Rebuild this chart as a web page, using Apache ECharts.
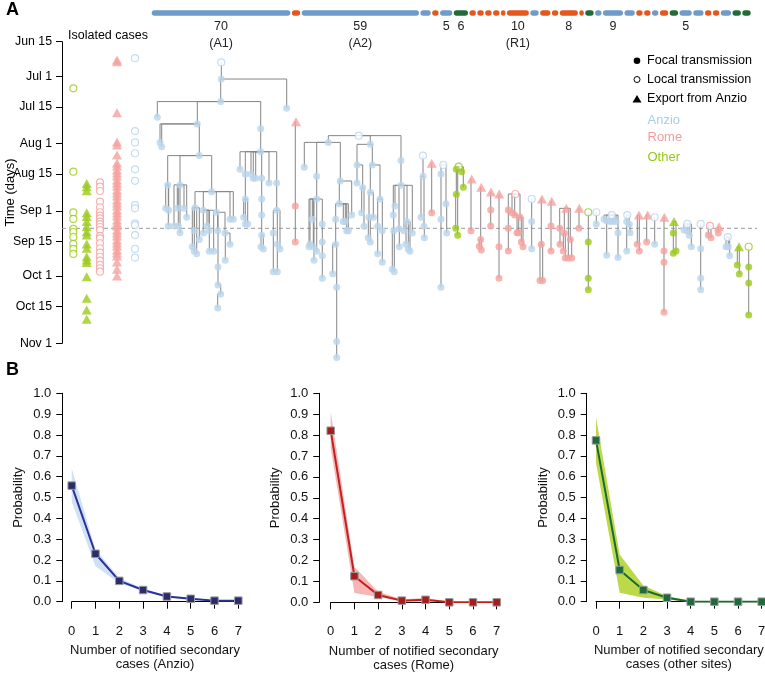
<!DOCTYPE html>
<html><head><meta charset="utf-8">
<script src="https://cdn.jsdelivr.net/npm/echarts@6/dist/echarts.min.js"></script>
<style>html,body{margin:0;padding:0;background:#fff}#c{width:765px;height:675px}</style>
</head><body><div id="c"></div>
<script>
const FONT = '"Liberation Sans", Arial, Helvetica, sans-serif';

// ---------- Panel A: time axis (days since Jun 15) ----------
const yTickDays = [0, 16, 30, 47, 61, 78, 92, 108, 122, 139];
const yTickLabels = ['Jun 15', 'Jul 1', 'Jul 15', 'Aug 1', 'Aug 15', 'Sep 1', 'Sep 15', 'Oct 1', 'Oct 15', 'Nov 1'];
const cutoffDay = 86;

// ---------- cluster bar ----------
const clusterSizes = [70,3,59,4,2,5,6,2,2,2,2,1,10,3,4,2,8,1,3,2,9,4,2,2,2,3,3,5,4,2,2,4,3,3];
const clusterSites = ['A','R','A','A','R','A','O','R','R','R','R','R','R','A','R','R','R','R','O','A','A','A','R','R','A','R','O','A','A','R','R','A','O','O'];
const clusterLabels = {0:'70\n(A1)', 2:'59\n(A2)', 5:'5', 6:'6', 12:'10\n(R1)', 16:'8', 20:'9', 27:'5'};

// ---------- isolated cases (days) ----------
const isoOtherLocal = [21.5,59.9,78.7,81.7,86.3,87.7,90.0,93.2,95.5,97.8];
const isoOtherExport = [65.3,66.8,68.7,78.8,80.6,82.9,85.3,87.6,89.1,93.2,95.2,99.1,100.6,101.8,108.3,118.2,123.6,127.9];
const isoRomeLocal = [64.8,66.8,68.8,73.7,76.3,78.6,80.2,81.4,82.9,84.1,85.4,86.8,89.5,90.6,92.9,95.2,97.2,99.1,100.9,102.9,104.4,106.0];
const isoRomeExport = [8.4,9.2,32.7,46.2,47.6,52.2,55.9,57.3,59.1,60.5,61.9,63.7,65.1,66.5,68.3,69.7,71.1,72.9,74.3,75.7,77.6,79.0,80.3,82.2,83.5,84.9,86.8,88.2,89.5,91.4,92.8,94.2,96.0,97.4,98.8,101.5,104.9,108.0];
const isoAnzioLocal = [7.6,41.2,46.4,51.4,58.8,64.1,75.3,76.8,83.7,84.5,89.1,95.5,99.5];

// ---------- transmission trees: [column, day, site, kind, parent] ----------
const treeA1 = [
[221.3,9.5,'A','l',-1],[221.3,17.2,'A','f',0],[286.7,30.7,'A','f',1],[220.7,27.6,'A','f',1],
[157.3,34.8,'A','f',3],[197.3,37.9,'A','f',3],[260.7,40.1,'A','f',3],
[160,46.4,'A','f',5],[161.7,48.4,'A','f',5],[199.3,52.5,'A','f',5],
[167.7,66.0,'A','f',9],[180,66.0,'A','f',9],[211.7,69.1,'A','f',9],
[165.7,76.8,'A','f',10],[168.7,77.7,'A','f',10],[168.3,84.9,'A','f',10],
[177.3,76.8,'A','f',11],[184,76.8,'A','f',11],[186.7,80.9,'A','f',11],[174,84.9,'A','f',11],[178.3,84.9,'A','f',11],[180,88.0,'A','f',11],
[195,76.5,'A','f',12],[203.3,77.7,'A','f',12],[216.3,78.6,'A','f',12],[230,81.8,'A','f',12],[233.3,81.8,'A','f',12],
[194.3,87.1,'A','f',22],[199.3,91.2,'A','f',22],[192.3,94.5,'A','f',22],[194.3,96.6,'A','f',22],[196.7,97.7,'A','f',22],
[207,84.9,'A','f',23],[209,87.1,'A','f',23],[203.3,88.2,'A','f',23],[209.3,96.6,'A','f',23],[213.7,96.6,'A','f',23],
[225,88.2,'A','f',24],[217.7,87.1,'A','f',24],[218,103.8,'A','f',24],[218,112.1,'A','f',39],[220.7,116.3,'A','f',40],[217.7,122.7,'A','f',41],
[230,93.4,'A','f',37],[225.3,100.7,'A','f',37],
[260.7,50.7,'A','f',6],
[240,58.8,'A','f',45],[245.3,61.0,'A','f',45],[251,61.0,'A','f',45],[253.3,62.9,'A','f',45],[255.7,62.9,'A','f',45],[261.7,62.9,'A','f',45],[269,65.1,'A','f',45],[276.7,65.1,'A','f',45],
[245.3,72.5,'A','f',47],[243.7,80.9,'A','f',54],[245.3,84.0,'A','f',54],[247.7,84.0,'A','f',54],
[261.7,72.5,'A','f',51],[261.7,79.9,'A','f',58],[261.7,89.2,'A','f',59],[261,94.5,'A','f',60],[263.3,95.5,'A','f',60],
[276.7,77.7,'A','f',53],[273.3,88.2,'A','f',63],[277.3,93.4,'A','f',63],[280,95.5,'A','f',63],[273.3,106.0,'A','f',64],[277.3,106.0,'A','f',65]
];
const treeR0 = [[296,36.9,'R','e',-1],[295.3,75.7,'R','f',0],[295.3,92.3,'R','f',1]];
const treeA2 = [
[358.7,43.3,'A','l',-1],[328.3,46.4,'A','f',0],[370.3,47.3,'A','f',0],[401,54.8,'A','f',0],
[304.3,57.9,'A','f',1],[316.7,62.0,'A','f',1],[340.3,64.2,'A','f',1],
[316.7,72.5,'A','f',5],[312.3,81.8,'A','f',7],[322.3,84.0,'A','f',7],[310,93.4,'A','f',7],[309,94.5,'A','f',7],[313.3,94.5,'A','f',7],[316.7,96.6,'A','f',7],[314,100.7,'A','f',7],
[322.3,92.3,'A','f',9],[322.3,98.6,'A','f',15],[322.3,109.0,'A','f',16],
[339.3,74.7,'A','f',6],[351.7,79.9,'A','f',6],
[335.7,81.8,'A','f',18],[343.3,82.9,'A','f',18],[345.3,82.9,'A','f',18],[346.7,87.1,'A','f',18],[348.3,87.1,'A','f',18],
[335.7,93.4,'A','f',20],[332.7,107.0,'A','f',25],[336.7,113.2,'A','f',25],[336.7,138.2,'A','f',27],[336.7,145.6,'A','f',28],
[357,56.8,'A','f',2],[372.3,56.8,'A','f',2],[357,65.1,'A','f',30],[362.7,67.3,'A','f',30],[361.7,78.8,'A','f',33],[364,85.1,'A','f',33],
[370.3,69.4,'A','f',31],[380,72.5,'A','f',31],[369,80.9,'A','f',36],[373.3,80.9,'A','f',36],[368.3,90.3,'A','f',38],[370.3,92.3,'A','f',39],
[377.7,85.1,'A','f',37],[382.3,87.1,'A','f',37],[377.7,97.7,'A','f',42],[382.3,101.7,'A','f',43],
[401,66.2,'A','f',3],[395,75.7,'A','f',46],[393.3,79.9,'A','f',46],[393.7,87.1,'A','f',48],[399,86.2,'A','f',46],[404,87.1,'A','f',46],[407,82.9,'A','f',46],
[406,93.4,'A','f',52],[408.3,95.5,'A','f',52],[410,96.6,'A','f',52],[412.3,88.2,'A','f',46],[392.3,104.9,'A','f',49],[394.3,106.0,'A','f',49],[399.3,94.5,'A','f',50]
];
const treeSmall = [
[423,52.5,'A','l',-1],[423,62.0,'A','f',0],[421,80.9,'A','f',1],[424,85.1,'A','f',1],[424.3,90.3,'A','f',3],
[431.7,56.0,'R','e',-1],[431.7,78.8,'R','f',5],
[443.3,56.8,'A','l',-1],[441,61.0,'A','f',7],[446,74.7,'A','f',7],[441,81.8,'A','f',8],[446.7,88.2,'A','f',9],[441,113.2,'A','f',10],
[458.7,57.6,'O','l',-1],[456.3,58.8,'O','f',13],[461.7,59.9,'O','f',13],[463.3,67.1,'O','f',13],[456.3,70.3,'O','f',14],[455.7,86.0,'O','f',17],[457.7,89.2,'O','f',14],
[471.7,63.3,'R','e',-1],[471,87.1,'R','f',20],
[481.3,67.1,'R','e',-1],[480.7,91.2,'R','f',22],[479.3,94.3,'R','f',23],[481.3,96.0,'R','f',23],
[491,69.3,'R','e',-1],[490.7,77.6,'R','f',26],[490.7,84.9,'R','f',27],
[499.3,70.2,'R','e',-1],[499,94.5,'R','f',29],[499,109.0,'R','f',30],
[515.3,70.2,'R','l',-1],[508.3,77.6,'R','f',32],[512,78.8,'R','f',32],[514.7,79.9,'R','f',32],[520,80.9,'R','f',32],[508.3,86.0,'R','f',33],[517,88.0,'R','f',35],[518.7,88.0,'R','f',36],[508.3,96.5,'R','f',37],[521.3,92.3,'R','f',36],[523,94.5,'R','f',36],
[531.7,72.5,'A','l',-1],[531.7,82.9,'A','f',43],[531.7,95.4,'A','f',44],
[542,72.5,'R','e',-1],[541.3,93.4,'R','f',46],[540,110.1,'R','f',47],[542.7,110.1,'R','f',47],
[551.7,73.5,'R','e',-1],[551,84.9,'R','f',50],[551,96.5,'R','f',51],
[566.3,76.8,'R','e',-1],[559.7,86.0,'R','f',53],[564.3,88.3,'R','f',53],[560,93.4,'R','f',54],[563.3,96.5,'R','f',55],[565.3,99.7,'R','f',55],[568.3,99.7,'R','f',53],[571.7,99.7,'R','f',61],[570.3,91.2,'R','f',53],
[579.3,76.8,'R','e',-1],[579,86.0,'R','f',62],
[588.3,78.6,'O','l',-1],[588.3,92.3,'O','f',64],[588.3,109.0,'O','f',65],[588.3,114.3,'O','f',66],
[596.3,78.6,'A','l',-1],[596.3,84.0,'A','f',68],
[611.7,79.9,'A','l',-1],[604,81.8,'A','f',70],[606.7,82.6,'A','f',70],[610,82.9,'A','f',70],[613.3,82.9,'A','f',70],[616,82.9,'A','f',70],[606.7,98.4,'A','f',72],[618,88.0,'A','f',70],[618,99.5,'A','f',77],
[627.3,79.9,'A','l',-1],[626.7,82.9,'A','f',79],[629.3,84.1,'A','f',79],[630,88.0,'A','f',81],[626.7,96.5,'A','f',80],
[639,79.9,'R','e',-1],[637.3,93.4,'R','f',84],[639.3,96.5,'R','f',84],
[647.7,79.9,'R','e',-1],[646.7,92.3,'R','f',87],
[654.7,80.9,'A','l',-1],[654.7,93.4,'A','f',89],
[664.3,80.9,'R','e',-1],[664,96.5,'R','f',91],[664,101.7,'R','f',92],[664,124.7,'R','f',93],
[674,82.9,'O','e',-1],[673.3,88.2,'O','f',95],[673.3,97.5,'O','f',96],[676,96.5,'O','f',95],
[687.3,84.0,'A','l',-1],[684,86.8,'A','f',99],[687.3,87.1,'A','f',99],[689.3,89.2,'A','f',99],[691.3,94.5,'A','f',99],
[700.7,84.0,'A','l',-1],[700.7,95.4,'A','f',104],[700.7,109.0,'A','f',105],[700.7,114.3,'A','f',106],
[710,84.9,'R','l',-1],[708.3,89.1,'R','f',108],[711,90.3,'R','f',108],
[719,85.3,'R','e',-1],[718.3,88.2,'R','f',111],
[727.7,90.1,'A','l',-1],[726,94.5,'A','f',113],[728.3,94.5,'A','f',113],[729.7,98.6,'A','f',113],
[739,94.5,'O','e',-1],[737.3,102.9,'O','f',117],[739.3,107.1,'O','f',117],
[748.7,94.5,'O','l',-1],[748.7,103.8,'O','f',120],[748.7,111.2,'O','f',121],[748.7,125.9,'O','f',122]
];

// ---------- Panel B: offspring distributions ----------
const countLabels = ['0','1','2','3','4','5','6','7'];
const anzioMean  = [0.557,0.230,0.100,0.056,0.025,0.014,0.005,0.005];
const anzioLow   = [0.480,0.170,0.088,0.050,0.021,0.011,0.004,0.003];
const anzioHigh  = [0.640,0.250,0.115,0.062,0.030,0.018,0.008,0.007];
const romeMean   = [0.821,0.125,0.035,0.008,0.012,0.000,0.000,0.000];
const romeLow    = [0.740,0.045,0.025,0.004,0.006,0.000,0.000,0.000];
const romeHigh   = [0.910,0.170,0.050,0.015,0.020,0.003,0.002,0.002];
const otherMean  = [0.774,0.152,0.056,0.019,0.000,0.000,0.000,0.000];
const otherLow   = [0.665,0.043,0.019,0.010,0.000,0.000,0.000,0.000];
const otherHigh  = [0.885,0.226,0.078,0.027,0.004,0.001,0.001,0.001];

// ---------- styles ----------
const SITE_POINT = {A:'#b9d5ec', R:'#f5a19e', O:'#9bcb1c'};
const SITE_BAR = {A:'#6e9bc7', R:'#e4581e', O:'#1f6c37'};

function pointItem(x, day, site, kind) {
  const c = SITE_POINT[site];
  if (kind === 'f') return {value:[x, day], symbol:'circle', symbolSize:7, itemStyle:{color:c}};
  if (kind === 'l') return {value:[x, day], symbol:'circle', symbolSize:7, itemStyle:{color:'#fff', borderColor:c, borderWidth:1.2}};
  return {value:[x, day], symbol:'triangle', symbolSize:[10,9], itemStyle:{color:c}};
}

const edges = [];
const points = [];
[treeA1, treeR0, treeA2, treeSmall].forEach(tree => {
  tree.forEach(n => {
    if (n[4] >= 0) {
      const p = tree[n[4]];
      if (Math.abs(p[0] - n[0]) > 0.01) edges.push([p[0], p[1], n[0], p[1]]);
      edges.push([n[0], p[1], n[0], n[1]]);
    }
  });
});
[treeA1, treeR0, treeA2, treeSmall].forEach(tree => tree.forEach(n => points.push(pointItem(n[0], n[1], n[2], n[3]))));

const isoCols = [[isoOtherLocal, 73.3, 'O', 'l'], [isoOtherExport, 86.7, 'O', 'e'], [isoRomeLocal, 100, 'R', 'l'], [isoRomeExport, 117, 'R', 'e'], [isoAnzioLocal, 135, 'A', 'l']];
isoCols.forEach(([arr, col, site, kind]) => arr.forEach(d => points.push(pointItem(col, d, site, kind))));

// cluster bar layout (in case units)
const CAP = 1.3, GAP = 0.75;
const barData = [];
let cum = 0;
clusterSizes.forEach((n, i) => {
  barData.push([cum, cum + n + CAP, i]);
  cum += n + CAP + GAP;
});
const barTotal = cum - GAP;

const chart = echarts.init(document.getElementById('c'), null, {renderer:'canvas'});

function probYAxis(gi, offset) {
  return {gridIndex:gi, type:'value', min:0, max:1, interval:0.1, offset:offset,
    axisLine:{show:true, lineStyle:{color:'#000', width:1}},
    axisTick:{show:true, length:6, lineStyle:{color:'#000'}},
    splitLine:{show:false},
    axisLabel:{fontSize:13, color:'#111', fontFamily:FONT, margin:11, formatter:v => v.toFixed(1)},
    name:'Probability', nameLocation:'middle', nameRotate:90, nameGap:37, nameMoveOverlap:false,
    nameTextStyle:{fontSize:13, color:'#111', fontFamily:FONT}};
}
function countXAxis(gi, site) {
  return {gridIndex:gi, type:'category', data:countLabels, boundaryGap:false, offset:13,
    axisLine:{show:true, lineStyle:{color:'#000', width:1}},
    axisTick:{show:true, length:7, alignWithLabel:true, lineStyle:{color:'#000'}},
    axisLabel:{fontSize:13, color:'#111', fontFamily:FONT, margin:10},
    name:'Number of notified secondary\ncases (' + site + ')', nameLocation:'middle', nameGap:29, nameMoveOverlap:false,
    nameTextStyle:{fontSize:13, color:'#111', fontFamily:FONT, lineHeight:14, align:'center', verticalAlign:'top'}};
}
function bandSeries(k, low, high, mean, bandColor, lineColor, markColor) {
  return [
    {type:'line', xAxisIndex:k, yAxisIndex:k, data:low, stack:'band'+k, symbol:'none', silent:true, lineStyle:{opacity:0}},
    {type:'line', xAxisIndex:k, yAxisIndex:k, data:high.map((h,i) => +(h - low[i]).toFixed(4)), stack:'band'+k, symbol:'none', silent:true,
      lineStyle:{opacity:0}, areaStyle:{color:bandColor, opacity:1}},
    {type:'line', xAxisIndex:k, yAxisIndex:k, data:mean, symbol:'rect', symbolSize:7.5, z:5,
      lineStyle:{color:lineColor, width:2}, itemStyle:{color:markColor, borderColor:'#9a9a9a', borderWidth:1}}
  ];
}

const legendItems = [
  {type:'circle', shape:{cx:637, cy:60.7, r:3.3}, style:{fill:'#000'}},
  {type:'text', x:647, y:60.7, style:{text:'Focal transmission', font:'12.6px ' + FONT, fill:'#000', verticalAlign:'middle'}},
  {type:'circle', shape:{cx:637, cy:79.5, r:3}, style:{fill:'#fff', stroke:'#000', lineWidth:1}},
  {type:'text', x:647, y:79.5, style:{text:'Local transmission', font:'12.6px ' + FONT, fill:'#000', verticalAlign:'middle'}},
  {type:'polygon', shape:{points:[[637,95],[641.5,102.5],[632.5,102.5]]}, style:{fill:'#000'}},
  {type:'text', x:647, y:99, style:{text:'Export from Anzio', font:'12.6px ' + FONT, fill:'#000', verticalAlign:'middle'}},
  {type:'text', x:647.5, y:120, style:{text:'Anzio', font:'13px ' + FONT, fill:'#a9cdea', verticalAlign:'middle'}},
  {type:'text', x:647.5, y:137.5, style:{text:'Rome', font:'13px ' + FONT, fill:'#f59b9b', verticalAlign:'middle'}},
  {type:'text', x:647.5, y:157, style:{text:'Other', font:'13px ' + FONT, fill:'#97c816', verticalAlign:'middle'}}
];

const G = {outerBoundsMode:'none', containLabel:false};
const option = {
  animation:false,
  backgroundColor:'#fff',
  textStyle:{fontFamily:FONT},
  graphic:[
    {type:'text', left:6, top:1, style:{text:'A', font:'bold 18px ' + FONT, fill:'#000'}},
    {type:'text', left:6, top:361, style:{text:'B', font:'bold 18px ' + FONT, fill:'#000'}},
    {type:'text', x:68, y:36, style:{text:'Isolated cases', font:'12.5px ' + FONT, fill:'#000', verticalAlign:'middle'}},
    ...legendItems
  ],
  grid:[
    {...G, left:62, top:41.7, width:703, height:301.6},
    {...G, left:151.7, top:8, width:599, height:10},
    {...G, left:71.7, top:393.3, width:166.6, height:208.4},
    {...G, left:330.7, top:393.3, width:166, height:209},
    {...G, left:596, top:393.3, width:165.7, height:208.4}
  ],
  xAxis:[
    {gridIndex:0, type:'value', min:62, max:765, show:false},
    {gridIndex:1, type:'value', min:0, max:barTotal, show:false},
    countXAxis(2, 'Anzio'), countXAxis(3, 'Rome'), countXAxis(4, 'other sites')
  ],
  yAxis:[
    {gridIndex:0, type:'value', inverse:true, min:0, max:139,
      axisLine:{show:true, lineStyle:{color:'#000', width:1}},
      axisTick:{show:true, length:6, customValues:yTickDays, lineStyle:{color:'#000'}},
      axisLabel:{customValues:yTickDays, fontSize:12.3, color:'#000', fontFamily:FONT, margin:10,
        formatter:v => yTickLabels[yTickDays.indexOf(v)] || ''},
      splitLine:{show:false},
      name:'Time (days)', nameLocation:'middle', nameRotate:90, nameGap:45, nameMoveOverlap:false,
      nameTextStyle:{fontSize:13, color:'#000', fontFamily:FONT}},
    {gridIndex:1, type:'value', min:0, max:1, show:false},
    probYAxis(2, 9.4), probYAxis(3, 11.4), probYAxis(4, 9.3)
  ],
  series:[
    {type:'line', xAxisIndex:0, yAxisIndex:0, data:[[62, cutoffDay],[757, cutoffDay]], symbol:'none', silent:true,
      lineStyle:{color:'#9a9a9a', width:1, type:[4,3]}, z:1},
    {type:'custom', xAxisIndex:0, yAxisIndex:0, data:edges, clip:false, silent:true, z:2,
      dimensions:['x1','y1','x2','y2'], encode:{x:[0,2], y:[1,3]},
      renderItem:(params, api) => {
        const a = api.coord([api.value(0), api.value(1)]);
        const b = api.coord([api.value(2), api.value(3)]);
        return {type:'line', shape:{x1:a[0], y1:a[1], x2:b[0], y2:b[1]}, style:{stroke:'#858585', lineWidth:1}};
      }},
    {type:'scatter', xAxisIndex:0, yAxisIndex:0, data:points, clip:false, silent:true, z:3},
    {type:'custom', xAxisIndex:1, yAxisIndex:1, data:barData, clip:false, silent:true,
      renderItem:(params, api) => {
        const s = api.coord([api.value(0), 0.5]);
        const e = api.coord([api.value(1), 0.5]);
        const i = api.value(2);
        const h = 5.5;
        const ch = [{type:'rect', shape:{x:s[0], y:s[1]-h/2, width:e[0]-s[0], height:h, r:h/2}, style:{fill:SITE_BAR[clusterSites[i]]}}];
        const lbl = clusterLabels[i];
        if (lbl) ch.push({type:'text', x:(s[0]+e[0])/2, y:s[1]+5.5, style:{text:lbl, font:'12.5px ' + FONT, fill:'#222', align:'center', verticalAlign:'top', lineHeight:16.5}});
        return {type:'group', children:ch};
      }},
    ...bandSeries(2, anzioLow, anzioHigh, anzioMean, '#cfe1f6', '#2c3099', '#2b2c6e'),
    ...bandSeries(3, romeLow, romeHigh, romeMean, '#f6b6b6', '#c41f1f', '#a51d1d'),
    ...bandSeries(4, otherLow, otherHigh, otherMean, '#bcd94a', '#1b6a35', '#1f6a3d')
  ]
};
chart.setOption(option);
</script>
</body></html>
